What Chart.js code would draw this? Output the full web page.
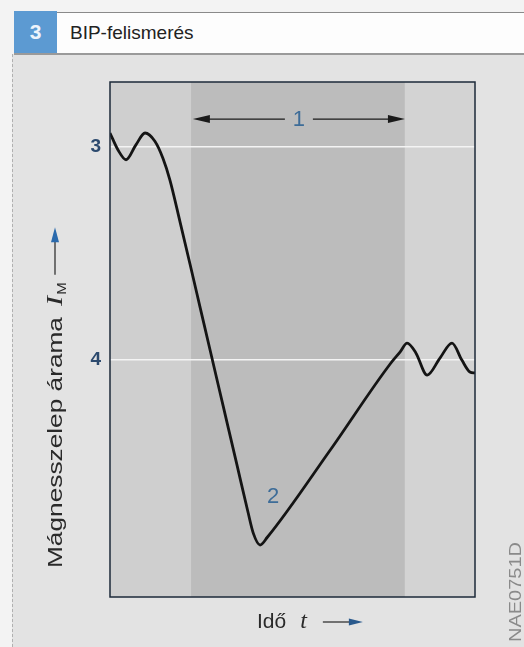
<!DOCTYPE html>
<html>
<head>
<meta charset="utf-8">
<script src="https://cdn.jsdelivr.net/npm/chart.js@4.4.1/dist/chart.umd.min.js"></script>
<style>
  html, body { margin: 0; padding: 0; }
  body { width: 524px; height: 647px; background: #f3f3f3; position: relative; overflow: hidden;
         font-family: 'Liberation Sans', Arial, sans-serif; }
  .panel { position: absolute; left: 12px; top: 54px; right: 0; bottom: 0; background: #e3e3e3;
           border-left: 1px dashed #b0b0b0; }
  .head { position: absolute; left: 14px; top: 12px; right: 0; height: 40px; background: #fdfdfd;
          border-top: 1px solid #8a8a8a; border-bottom: 2px solid #9a9a9a; }
  .num { position: absolute; left: 0; top: -2px; width: 43px; height: 42px; background: #5c9ad2;
         color: #eef4fb; font-weight: bold; font-size: 21px; line-height: 42px; text-align: center; }
  .title { position: absolute; left: 56px; top: 0; line-height: 40px; font-size: 19px; color: #222; }
  #chart { position: absolute; left: 0; top: 0; }
</style>
</head>
<body>
<div class="panel"></div>
<div class="head"><div class="num">3</div><div class="title">BIP-felismerés</div></div>
<canvas id="chart" width="524" height="647"></canvas>
<script>
// Time axis (0..100) and solenoid current (0..100)
const timeVals = [0, 2.2, 4.4, 7.1, 9.6, 12.3, 14.5, 16.4, 19.2, 21.9, 24.7, 27.4, 31.0, 34.8, 37.8,
  39.3, 41.1, 43.1, 60.3, 76.7, 79.5, 81.4, 83.8, 86.9, 90.4, 93.7, 96.4, 98.6, 100];
const currentVals = [90.1, 86.8, 84.9, 87.8, 90.1, 88.5, 85.2, 81.0, 72.8, 64.7, 56.2, 48.0, 37.1, 25.6, 16.5,
  12.3, 10.1, 11.6, 28.5, 45.2, 47.6, 49.3, 47.4, 43.1, 46.4, 49.3, 46.0, 43.7, 43.5];

// Marked current levels (white lines) and their labels
const levelVals = [46.0, 87.4];
const levelLabels = ['4', '3'];

// Background bands along the time axis
const bandStart = [0, 22.2, 80.8];
const bandEnd = [22.2, 80.8, 100];
const bandColors = ['#cfcfcf', '#bcbcbc', '#d3d3d3'];

// Callouts
const spanFrom = 22.7, spanTo = 80.8, spanY = 92.8, spanLabel = '1';
const dipLabel = '2', dipX = 44.7, dipY = 19.4;

const SANS = "'Liberation Sans', Arial, sans-serif";
const SERIF = "'Liberation Serif', 'Times New Roman', serif";

function arrowHead(ctx, x, y, dir, len, half) {
  ctx.beginPath();
  ctx.moveTo(x, y);
  ctx.lineTo(x - dir * len, y - half);
  ctx.lineTo(x - dir * len, y + half);
  ctx.closePath();
  ctx.fill();
}

const decor = {
  id: 'decor',
  beforeDraw(chart) {
    const { ctx, chartArea: a, scales: { x } } = chart;
    ctx.save();
    bandStart.forEach((s, i) => {
      const x0 = x.getPixelForValue(s), x1 = x.getPixelForValue(bandEnd[i]);
      ctx.fillStyle = bandColors[i];
      ctx.fillRect(x0, a.top, x1 - x0, a.bottom - a.top);
    });
    ctx.restore();
  },
  afterDraw(chart) {
    const { ctx, chartArea: a, scales: { x, y } } = chart;
    ctx.save();
    // frame
    ctx.strokeStyle = '#1d2a3a';
    ctx.lineWidth = 1.5;
    ctx.strokeRect(a.left, a.top, a.right - a.left, a.bottom - a.top);

    // span arrow "1"
    const ax0 = x.getPixelForValue(spanFrom), ax1 = x.getPixelForValue(spanTo);
    const ay = y.getPixelForValue(spanY);
    const mid = (ax0 + ax1) / 2;
    ctx.font = '22px ' + SANS;
    ctx.fillStyle = '#3d6c98';
    ctx.textAlign = 'center';
    ctx.textBaseline = 'middle';
    ctx.fillText(spanLabel, mid, ay + 1);
    ctx.strokeStyle = '#1a1a1a';
    ctx.fillStyle = '#1a1a1a';
    ctx.lineWidth = 1.2;
    ctx.beginPath();
    ctx.moveTo(ax0 + 8, ay); ctx.lineTo(mid - 14, ay);
    ctx.moveTo(mid + 14, ay); ctx.lineTo(ax1 - 8, ay);
    ctx.stroke();
    arrowHead(ctx, ax0, ay, -1, 17, 4);
    arrowHead(ctx, ax1, ay, 1, 17, 4);

    // dip label "2"
    ctx.fillStyle = '#3d6c98';
    ctx.font = '22px ' + SANS;
    ctx.fillText(dipLabel, x.getPixelForValue(dipX), y.getPixelForValue(dipY));

    // y title (rotated, the print is stretched along the text)
    ctx.save();
    ctx.translate(62, 568);
    ctx.rotate(-Math.PI / 2);
    ctx.scale(1.25, 1);
    ctx.textAlign = 'left';
    ctx.textBaseline = 'alphabetic';
    ctx.fillStyle = '#2a2a2a';
    ctx.font = '21px ' + SANS;
    const t1 = 'Mágnesszelep árama ';
    ctx.fillText(t1, 0, 0);
    let px = ctx.measureText(t1).width + 3;
    ctx.font = 'italic 24px ' + SERIF;
    ctx.fillText('I', px, 0);
    px += ctx.measureText('I').width + 1;
    ctx.font = '12px ' + SANS;
    ctx.fillText('M', px, 4);
    px += ctx.measureText('M').width + 6;
    ctx.strokeStyle = '#333';
    ctx.lineWidth = 1.3;
    ctx.beginPath(); ctx.moveTo(px, -7); ctx.lineTo(px + 28, -7); ctx.stroke();
    ctx.fillStyle = '#2a6aad';
    arrowHead(ctx, px + 38, -7, 1, 12, 4);
    ctx.restore();

    // x title
    ctx.textAlign = 'left';
    ctx.textBaseline = 'alphabetic';
    ctx.fillStyle = '#2a2a2a';
    ctx.font = '21px ' + SANS;
    ctx.fillText('Idő', 257, 628);
    let qx = 257 + ctx.measureText('Idő').width + 14;
    ctx.font = 'italic 24px ' + SERIF;
    ctx.fillText('t', qx, 628);
    qx += ctx.measureText('t').width + 16;
    ctx.strokeStyle = '#333';
    ctx.lineWidth = 1.3;
    ctx.beginPath(); ctx.moveTo(qx, 622); ctx.lineTo(qx + 28, 622); ctx.stroke();
    ctx.fillStyle = '#2a5a8d';
    arrowHead(ctx, qx + 40, 622, 1, 14, 3.5);

    // figure code
    ctx.save();
    ctx.translate(521, 642);
    ctx.rotate(-Math.PI / 2);
    ctx.scale(1.25, 1);
    ctx.fillStyle = '#8a8a8a';
    ctx.font = '16px ' + SANS;
    ctx.fillText('NAE0751D', 0, 0);
    ctx.restore();

    ctx.restore();
  }
};

new Chart(document.getElementById('chart'), {
  type: 'line',
  data: {
    datasets: [{
      data: timeVals.map((t, i) => ({ x: t, y: currentVals[i] })),
      borderColor: '#141414',
      borderWidth: 2.8,
      pointRadius: 0,
      cubicInterpolationMode: 'monotone',
      fill: false
    }]
  },
  options: {
    responsive: false,
    animation: false,
    layout: { padding: { left: 78, right: 49, top: 82, bottom: 50 } },
    plugins: { legend: { display: false }, tooltip: { enabled: false } },
    scales: {
      x: { type: 'linear', min: 0, max: 100, display: false },
      y: {
        type: 'linear', min: 0, max: 100,
        afterBuildTicks: (s) => { s.ticks = levelVals.map(v => ({ value: v })); },
        afterFit: (s) => { s.width = 32; },
        ticks: {
          padding: 9,
          color: '#2c4a6e',
          font: { family: SANS, size: 19, weight: 'bold' },
          callback: (v) => levelLabels[levelVals.indexOf(v)]
        },
        grid: { color: '#f4f4f4', lineWidth: 1.6, drawTicks: false },
        border: { display: false }
      }
    }
  },
  plugins: [decor]
});
</script>
</body>
</html>
